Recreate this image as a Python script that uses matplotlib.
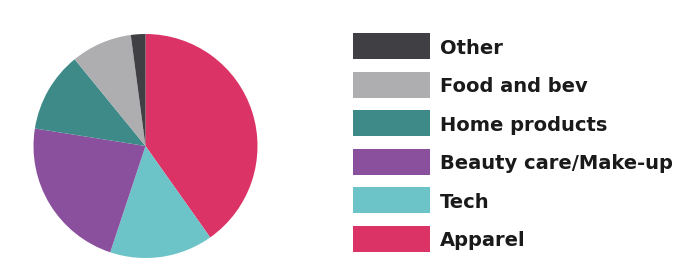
import matplotlib.pyplot as plt
from matplotlib.patches import Rectangle

# Market share by category
categories = ['Apparel', 'Tech', 'Beauty care/Make-up', 'Home products', 'Food and bev', 'Other']
shares = [40.2, 14.9, 22.4, 11.6, 8.8, 2.1]
colors = ['#DC3366', '#6DC4C8', '#8A509E', '#3E8A88', '#AEAEB1', '#404044']

W, H = 696, 273
fig = plt.figure(figsize=(W / 100, H / 100), dpi=100)

# Pie: centre (145.5, 146) px, radius 112 px
cx, cy, r = 145.5, 146, 112
ax = fig.add_axes([(cx - r) / W, (H - cy - r) / H, 2 * r / W, 2 * r / H])
ax.pie(shares, colors=colors, startangle=90, counterclock=False,
       wedgeprops=dict(linewidth=0))
ax.set_xlim(-1, 1)
ax.set_ylim(-1, 1)
ax.set_aspect('equal')
ax.axis('off')

# Legend, drawn top to bottom in reverse category order
box_x, box_w, box_h = 353, 77, 26
top_y, step = 46, 38.6
for i, (name, col) in enumerate(zip(categories[::-1], colors[::-1])):
    yc = top_y + i * step
    fig.patches.append(Rectangle((box_x / W, (H - yc - box_h / 2) / H), box_w / W, box_h / H,
                                 transform=fig.transFigure, facecolor=col, edgecolor='none'))
    fig.text(440 / W, (H - yc) / H, name, ha='left', va='center_baseline',
             fontsize=14, fontweight='bold', family='DejaVu Sans', color='#1a1a1a')

fig.savefig('out.png', dpi=100, facecolor='white')
